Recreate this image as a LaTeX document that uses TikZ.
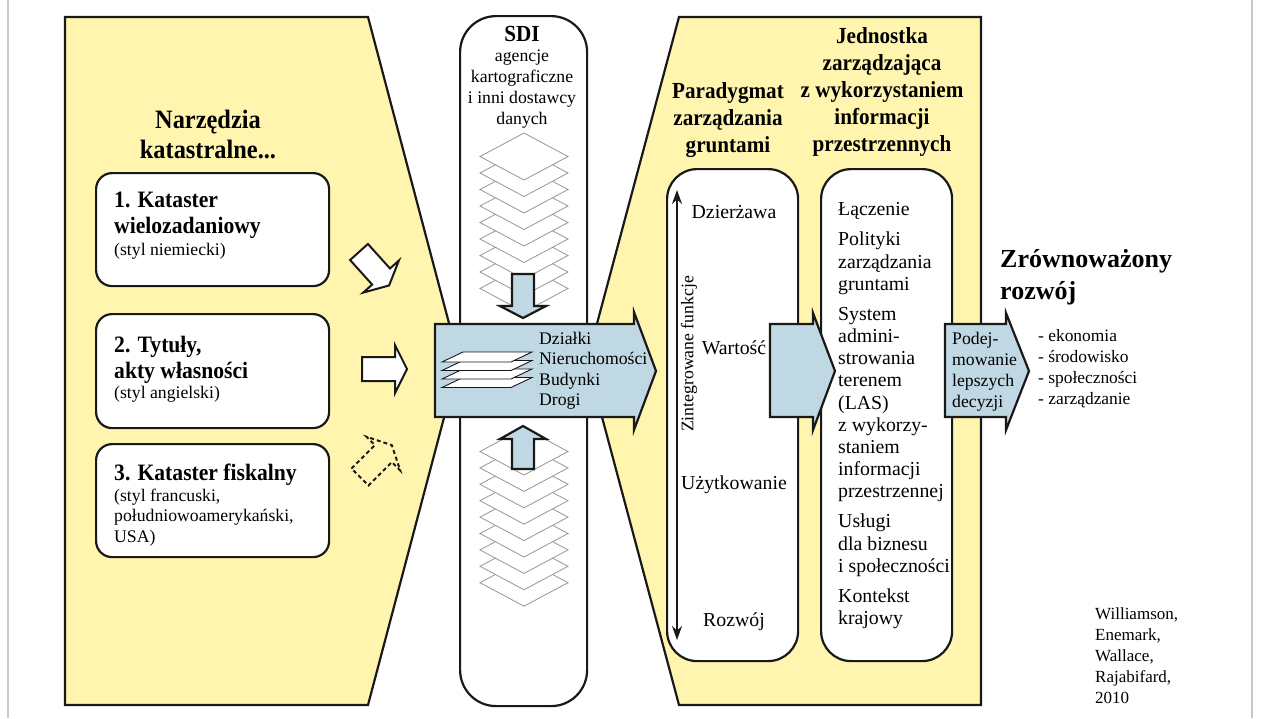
\documentclass[tikz,border=0pt]{standalone}
\usepackage{fontspec}
\setmainfont{Liberation Serif}
\newfontfamily\headfont{Liberation Serif}[FakeStretch=0.92]
\usepackage{tikz}
\usetikzlibrary{arrows.meta}

\definecolor{panelyellow}{RGB}{255,245,175}
\definecolor{flowblue}{RGB}{192,216,227}
\definecolor{layergray}{RGB}{150,150,150}
\definecolor{framegray}{RGB}{200,200,200}

\begin{document}
\begin{tikzpicture}[x=1pt, y=-1pt,
    outl/.style={draw=black!90, line width=2.2pt},
    panel/.style={outl, fill=panelyellow},
    toolbox/.style={outl, fill=white, rounded corners=16pt, anchor=north west},
    pillar/.style={outl, fill=white, rounded corners=30pt, anchor=north west},
    flow/.style={outl, fill=flowblue},
    sdilayer/.style={draw=layergray, line width=0.8pt, fill=white},
    paper/.style={draw=black!90, line width=0.9pt, fill=white},
    plain/.style={inner sep=0pt, align=left, font=\fontsize{17.7}{20.5}\selectfont},
    body/.style={inner sep=0pt, align=left, font=\fontsize{19.8}{22.2}\selectfont},
    heading/.style={inner sep=0pt, font=\headfont\bfseries\fontsize{23.5}{26}\selectfont}]
    \useasboundingbox (0,0) rectangle (1261,718);
    \draw[framegray, line width=1.5pt] (8,0) -- (8,718) (1252,0) -- (1252,718);

    % yellow panels
    \draw[panel] (65,17) -- (368,17) -- (459,361) -- (368,705) -- (65,705) -- cycle;
    \draw[panel] (679,17) -- (981,17) -- (981,705) -- (679,705) -- (587,361) -- cycle;

    % SDI column (multi-line nodes sit on their last baseline)
    \node[pillar, rounded corners=36pt, minimum width=127pt, minimum height=690pt] (sdi) at (459,15) {};
    \node[heading, font=\headfont\bfseries\fontsize{23}{26}\selectfont, anchor=base] (sdititle) at (522,41) {SDI};
    \node[plain, align=center, font=\fontsize{17.7}{21}\selectfont, anchor=base] (sdiinfo) at (522,124) {agencje\\kartograficzne\\i inni dostawcy\\danych};
    \foreach \k in {8,7,...,0}
        \draw[sdilayer] (524,{133+16.5*\k}) -- (568,{156.5+16.5*\k}) -- (524,{180+16.5*\k}) -- (480,{156.5+16.5*\k}) -- cycle;
    \foreach \k in {8,7,...,0}
        \draw[sdilayer] (524,{428+16.4*\k}) -- (568,{451.5+16.4*\k}) -- (524,{475+16.4*\k}) -- (480,{451.5+16.4*\k}) -- cycle;
    \draw[flow] (512,274) -- (534,274) -- (534,306) -- (546,306) -- (523,318) -- (500,306) -- (512,306) -- cycle;
    \draw[flow] (512,469) -- (534,469) -- (534,439) -- (546,439) -- (523,426) -- (500,439) -- (512,439) -- cycle;

    % main flow arrow
    \draw[flow] (435,324) -- (634,324) -- (634,312) -- (656,371) -- (634,430) -- (634,417) -- (435,417) -- cycle;
    \foreach \s in {377.5,369,360.5,352}
        \draw[paper] (442,{\s+10}) -- (463,\s) -- (532,\s) -- (511,{\s+10}) -- cycle;
    \node[plain, anchor=base west] (layers) at (539,405.5) {Działki\\Nieruchomości\\Budynki\\Drogi};

    % cadastral tools
    \node[heading, align=center, font=\headfont\bfseries\fontsize{26.5}{30}\selectfont, anchor=base] (tools) at (208,158) {Narzędzia\\katastralne...};
    \node[toolbox, minimum width=233pt, minimum height=113pt] (cad1) at (95,172) {};
    \node[toolbox, minimum width=233pt, minimum height=114pt] (cad2) at (95,313) {};
    \node[toolbox, minimum width=233pt, minimum height=113pt] (cad3) at (95,443) {};
    \node[heading, align=left, anchor=base west] (cad1head) at (114,233) {1. Kataster\\wielozadaniowy};
    \node[plain, anchor=base west] (cad1note) at (114,255) {(styl niemiecki)};
    \node[heading, align=left, anchor=base west] (cad2head) at (114,378) {2. Tytuły,\\akty własności};
    \node[plain, anchor=base west] (cad2note) at (114,398) {(styl angielski)};
    \node[heading, anchor=base west] (cad3head) at (114,480) {3. Kataster fiskalny};
    \node[plain, anchor=base west] (cad3note) at (114,542) {(styl francuski,\\południowoamerykański,\\USA)};

    \def\hollowarrow{(0,-12) -- (33,-12) -- (33,-24) -- (45,0) -- (33,24) -- (33,12) -- (0,12) -- cycle}
    \draw[outl, line width=2pt, fill=white, shift={(359,252)}, rotate=-48] \hollowarrow;
    \draw[outl, line width=2pt, fill=white, shift={(362,369)}] \hollowarrow;
    \draw[outl, line width=2pt, dash pattern=on 4pt off 3pt, shift={(360,477)}, rotate=45] \hollowarrow;

    % land management paradigm
    \node[heading, align=center, font=\headfont\bfseries\fontsize{23}{27.2}\selectfont, anchor=base] (paradigmtitle) at (728,152.4) {Paradygmat\\zarządzania\\gruntami};
    \node[heading, align=center, font=\headfont\bfseries\fontsize{23}{27.2}\selectfont, anchor=base] (unittitle) at (882,151.8) {Jednostka\\zarządzająca\\z wykorzystaniem\\informacji\\przestrzennych};
    \node[pillar, minimum width=131pt, minimum height=492pt] (paradigm) at (666,168) {};
    \node[pillar, minimum width=131pt, minimum height=492pt] (las) at (820,168) {};

    \coordinate (intTop) at (677,190);
    \coordinate (intBot) at (677,640);
    \draw[black!90, line width=1.6pt, {Stealth[length=14pt,width=10pt]}-{Stealth[length=14pt,width=10pt]}] (intBot) -- (intTop);
    \node[plain, rotate=90] (intlabel) at (689,354) {Zintegrowane funkcje};
    \node[body, anchor=base] (tenure) at (734,218) {Dzierżawa};
    \node[body, anchor=base] (value) at (734,354) {Wartość};
    \node[body, anchor=base] (use) at (734,489) {Użytkowanie};
    \node[body, anchor=base] (devel) at (734,626) {Rozwój};

    \draw[flow] (770,324) -- (813,324) -- (813,313) -- (835,371) -- (813,430) -- (813,417) -- (770,417) -- cycle;
    \node[body, anchor=base west] (lastext) at (838,624.5) {Łączenie\\[7.8pt]Polityki\\zarządzania\\gruntami\\[7.8pt]System\\admini-\\strowania\\terenem\\(LAS)\\z wykorzy-\\staniem\\informacji\\przestrzennej\\[7.8pt]Usługi\\dla biznesu\\i społeczności\\[7.8pt]Kontekst\\krajowy};

    % better decisions and sustainable development
    \draw[flow] (945,324) -- (1006,324) -- (1006,313) -- (1029,371) -- (1006,430) -- (1006,417) -- (945,417) -- cycle;
    \node[plain, font=\fontsize{17.7}{21}\selectfont, anchor=base west] (decide) at (952,407) {Podej-\\mowanie\\lepszych\\decyzji};
    \node[inner sep=0pt, align=left, font=\bfseries\fontsize{26}{32}\selectfont, anchor=base west] (sustain) at (1000,299) {Zrównoważony\\rozwój};
    \node[plain, font=\fontsize{17.4}{20.7}\selectfont, anchor=base west] (aspects) at (1038,404) {- ekonomia\\- środowisko\\- społeczności\\- zarządzanie};
    \node[plain, font=\fontsize{17}{21}\selectfont, anchor=base west] (source) at (1095,703) {Williamson,\\Enemark,\\Wallace,\\Rajabifard,\\2010};
\end{tikzpicture}
\end{document}
